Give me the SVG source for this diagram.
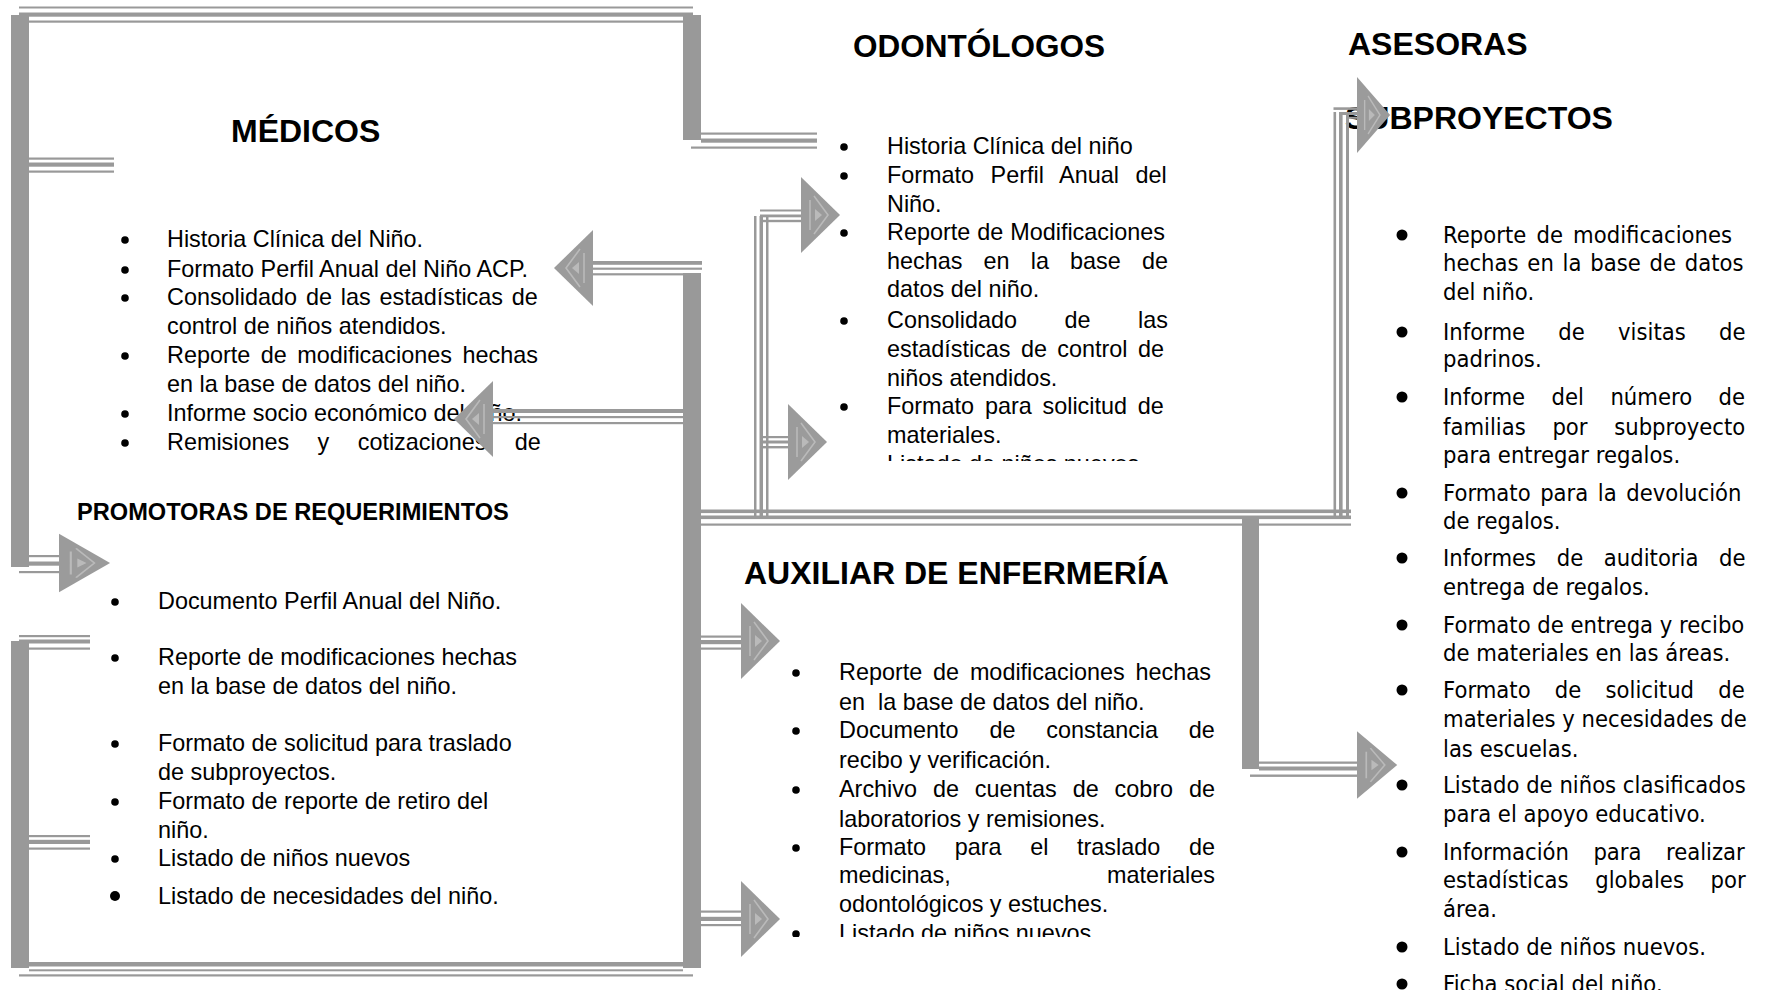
<svg xmlns="http://www.w3.org/2000/svg" xmlns:xlink="http://www.w3.org/1999/xlink" width="1765" height="990" viewBox="0 0 1765 990">
  <defs>
    <style>
      .t { font-family: "Liberation Sans", Arial, sans-serif; font-size: 23.4px; fill: #000; }
      .h { font-family: "Liberation Sans", Arial, sans-serif; font-weight: bold; font-size: 32px; fill: #000; }
      .v { font-family: "DejaVu Sans", Verdana, sans-serif; font-size: 22.8px; fill: #000; }
      .ln rect { fill: #999999; }
      .dot { fill: #000; }
    </style>
    <!-- right-pointing bevelled arrowhead; origin at the middle of its base -->
    <g id="arr">
      <polygon points="0,-38 39,0 0,38" fill="#9b9b9b"/>
      <path d="M9,-15 V15 M13,-19 L27,0 L13,19" fill="none" stroke="#bababa" stroke-width="1.6"/>
      <polygon points="14,-6 21,0 14,6" fill="#bababa"/>
    </g>
    <clipPath id="clipOdo"><rect x="820" y="120" width="400" height="341"/></clipPath>
    <clipPath id="clipAux"><rect x="770" y="600" width="470" height="337"/></clipPath>
  </defs>

  <rect width="1765" height="990" fill="#ffffff"/>

  <!-- MÉDICOS -->
  <g id="medicos">
    <text class="h" x="231" y="142">MÉDICOS</text>
    <circle class="dot" cx="125" cy="240" r="3.8"/>
    <circle class="dot" cx="125" cy="270" r="3.8"/>
    <circle class="dot" cx="125" cy="298" r="3.8"/>
    <circle class="dot" cx="125" cy="356" r="3.8"/>
    <circle class="dot" cx="125" cy="414" r="3.8"/>
    <circle class="dot" cx="125" cy="443" r="3.8"/>
    <text class="t" x="167" y="247">Historia Clínica del Niño.</text>
    <text class="t" x="167" y="277">Formato Perfil Anual del Niño ACP.</text>
    <text class="t" x="167" y="305" word-spacing="2.35">Consolidado de las estadísticas de</text>
    <text class="t" x="167" y="334">control de niños atendidos.</text>
    <text class="t" x="167" y="363" word-spacing="4">Reporte de modificaciones hechas</text>
    <text class="t" x="167" y="392">en la base de datos del niño.</text>
    <text class="t" x="167" y="421">Informe socio económico del niño.</text>
    <text class="t" x="167" y="450" word-spacing="21.9">Remisiones y cotizaciones de</text>
  </g>

  <!-- PROMOTORAS DE REQUERIMIENTOS -->
  <g id="promotoras">
    <text class="h" x="77" y="520" style="font-size:23.6px">PROMOTORAS DE REQUERIMIENTOS</text>
    <circle class="dot" cx="115" cy="602" r="3.8"/>
    <circle class="dot" cx="115" cy="658" r="3.8"/>
    <circle class="dot" cx="115" cy="744" r="3.8"/>
    <circle class="dot" cx="115" cy="802" r="3.8"/>
    <circle class="dot" cx="115" cy="859" r="3.8"/>
    <circle class="dot" cx="115" cy="896" r="5"/>
    <text class="t" x="158" y="609">Documento Perfil Anual del Niño.</text>
    <text class="t" x="158" y="665">Reporte de modificaciones hechas</text>
    <text class="t" x="158" y="694">en la base de datos del niño.</text>
    <text class="t" x="158" y="751">Formato de solicitud para traslado</text>
    <text class="t" x="158" y="780">de subproyectos.</text>
    <text class="t" x="158" y="809">Formato de reporte de retiro del</text>
    <text class="t" x="158" y="838">niño.</text>
    <text class="t" x="158" y="866">Listado de niños nuevos</text>
    <text class="t" x="158" y="904">Listado de necesidades del niño.</text>
  </g>

  <!-- ODONTÓLOGOS -->
  <g id="odontologos">
    <text class="h" x="853" y="57" style="font-size:31.5px">ODONTÓLOGOS</text>
    <g clip-path="url(#clipOdo)">
      <circle class="dot" cx="844" cy="147" r="3.8"/>
      <circle class="dot" cx="844" cy="176" r="3.8"/>
      <circle class="dot" cx="844" cy="233" r="3.8"/>
      <circle class="dot" cx="844" cy="321" r="3.8"/>
      <circle class="dot" cx="844" cy="407" r="3.8"/>
      <circle class="dot" cx="844" cy="465" r="3.8"/>
      <text class="t" x="887" y="154">Historia Clínica del niño</text>
      <text class="t" x="887" y="183" word-spacing="10">Formato Perfil Anual del</text>
      <text class="t" x="887" y="212">Niño.</text>
      <text class="t" x="887" y="240" word-spacing="0.5">Reporte de Modificaciones</text>
      <text class="t" x="887" y="269" word-spacing="14.65">hechas en la base de</text>
      <text class="t" x="887" y="297">datos del niño.</text>
      <text class="t" x="887" y="328" word-spacing="41">Consolidado de las</text>
      <text class="t" x="887" y="357" word-spacing="3.9">estadísticas de control de</text>
      <text class="t" x="887" y="386">niños atendidos.</text>
      <text class="t" x="887" y="414" word-spacing="4.3">Formato para solicitud de</text>
      <text class="t" x="887" y="443">materiales.</text>
      <text class="t" x="887" y="472">Listado de niños nuevos</text>
    </g>
  </g>

  <!-- AUXILIAR DE ENFERMERÍA -->
  <g id="auxiliar">
    <text class="h" x="744" y="584">AUXILIAR DE ENFERMERÍA</text>
    <g clip-path="url(#clipAux)">
      <circle class="dot" cx="796" cy="673" r="3.8"/>
      <circle class="dot" cx="796" cy="731" r="3.8"/>
      <circle class="dot" cx="796" cy="790" r="3.8"/>
      <circle class="dot" cx="796" cy="848" r="3.8"/>
      <circle class="dot" cx="796" cy="934" r="3.8"/>
      <text class="t" x="839" y="680" word-spacing="4.33">Reporte de modificaciones hechas</text>
      <text class="t" x="839" y="710">en&#160; la base de datos del niño.</text>
      <text class="t" x="839" y="738" word-spacing="24.3">Documento de constancia de</text>
      <text class="t" x="839" y="768">recibo y verificación.</text>
      <text class="t" x="839" y="797" word-spacing="9.4">Archivo de cuentas de cobro de</text>
      <text class="t" x="839" y="827">laboratorios y remisiones.</text>
      <text class="t" x="839" y="855" word-spacing="22.15">Formato para el traslado de</text>
      <text class="t" x="839" y="883" word-spacing="149.7">medicinas, materiales</text>
      <text class="t" x="839" y="912">odontológicos y estuches.</text>
      <text class="t" x="839" y="941">Listado de niños nuevos</text>
    </g>
  </g>

  <!-- ASESORAS SUBPROYECTOS -->
  <g id="asesoras">
    <text class="h" x="1348" y="55">ASESORAS</text>
    <text class="h" x="1345" y="129">SUBPROYECTOS</text>
    <circle class="dot" cx="1402" cy="235" r="5.5"/>
    <circle class="dot" cx="1402" cy="332" r="5.5"/>
    <circle class="dot" cx="1402" cy="397" r="5.5"/>
    <circle class="dot" cx="1402" cy="493" r="5.5"/>
    <circle class="dot" cx="1402" cy="558" r="5.5"/>
    <circle class="dot" cx="1402" cy="625" r="5.5"/>
    <circle class="dot" cx="1402" cy="690" r="5.5"/>
    <circle class="dot" cx="1402" cy="785" r="5.5"/>
    <circle class="dot" cx="1402" cy="852" r="5.5"/>
    <circle class="dot" cx="1402" cy="947" r="5.5"/>
    <circle class="dot" cx="1402" cy="984" r="5.5"/>
    <g transform="translate(1443 0) scale(0.93 1)">
      <text class="v" x="0" y="243" word-spacing="3.7">Reporte de modificaciones</text>
      <text class="v" x="0" y="271" word-spacing="2.2">hechas en la base de datos</text>
      <text class="v" x="0" y="300">del niño.</text>
      <text class="v" x="0" y="340" word-spacing="28.5">Informe de visitas de</text>
      <text class="v" x="0" y="367">padrinos.</text>
      <text class="v" x="0" y="405" word-spacing="21.2">Informe del número de</text>
      <text class="v" x="0" y="435" word-spacing="21.4">familias por subproyecto</text>
      <text class="v" x="0" y="463">para entregar regalos.</text>
      <text class="v" x="0" y="501" word-spacing="3">Formato para la devolución</text>
      <text class="v" x="0" y="529">de regalos.</text>
      <text class="v" x="0" y="566" word-spacing="14.9">Informes de auditoria de</text>
      <text class="v" x="0" y="595">entrega de regalos.</text>
      <text class="v" x="0" y="633">Formato de entrega y recibo</text>
      <text class="v" x="0" y="661">de materiales en las áreas.</text>
      <text class="v" x="0" y="698" word-spacing="18.8">Formato de solicitud de</text>
      <text class="v" x="0" y="727">materiales y necesidades de</text>
      <text class="v" x="0" y="757">las escuelas.</text>
      <text class="v" x="0" y="793">Listado de niños clasificados</text>
      <text class="v" x="0" y="822">para el apoyo educativo.</text>
      <text class="v" x="0" y="860" word-spacing="19">Información para realizar</text>
      <text class="v" x="0" y="888" word-spacing="21.4">estadísticas globales por</text>
      <text class="v" x="0" y="917">área.</text>
      <text class="v" x="0" y="955">Listado de niños nuevos.</text>
      <text class="v" x="0" y="992">Ficha social del niño.</text>
    </g>
  </g>

  <!-- connectors: grey compound lines, bars and arrowheads -->
  <g id="connectors" class="ln">
    <!-- upper frame around MÉDICOS -->
    <rect x="19" y="6.5" width="674" height="2"/>
    <rect x="19" y="12.5" width="674" height="4.2"/>
    <rect x="29" y="20.5" width="654" height="2.2"/>
    <rect x="11" y="15" width="18" height="552"/>
    <rect x="683" y="15" width="18" height="125"/>
    <rect x="701" y="132.5" width="116" height="2.2"/>
    <rect x="701" y="138.5" width="116" height="4.2"/>
    <rect x="691" y="146.5" width="126" height="2.2"/>
    <rect x="29" y="157.5" width="85" height="2.2"/>
    <rect x="29" y="162.5" width="85" height="4.2"/>
    <rect x="29" y="170.5" width="85" height="2.2"/>
    <rect x="29" y="555" width="32" height="2.2"/>
    <rect x="29" y="561.5" width="32" height="4.2"/>
    <rect x="19" y="571" width="42" height="2.2"/>

    <!-- lower frame around PROMOTORAS -->
    <rect x="19" y="635" width="71" height="2.2"/>
    <rect x="19" y="639.5" width="71" height="4"/>
    <rect x="29" y="647.5" width="61" height="2.2"/>
    <rect x="11" y="641" width="18" height="327"/>
    <rect x="29" y="835" width="61" height="2.2"/>
    <rect x="29" y="839.8" width="61" height="4.2"/>
    <rect x="29" y="847.5" width="61" height="2.2"/>
    <rect x="11" y="962" width="690" height="4.5"/>
    <rect x="29" y="969.3" width="654" height="2"/>
    <rect x="19" y="974.3" width="674" height="2.2"/>
    <rect x="683" y="273" width="18" height="695"/>

    <!-- links back to MÉDICOS -->
    <rect x="593" y="261" width="109" height="3.8"/>
    <rect x="593" y="267.6" width="109" height="2.2"/>
    <rect x="593" y="273.2" width="90" height="2.2"/>
    <rect x="492" y="409" width="191" height="4"/>
    <rect x="492" y="416" width="191" height="2.2"/>
    <rect x="492" y="422" width="191" height="2.2"/>

    <!-- links to AUXILIAR DE ENFERMERÍA -->
    <rect x="701" y="635.5" width="40" height="2.2"/>
    <rect x="701" y="640" width="40" height="4.2"/>
    <rect x="701" y="647.5" width="40" height="2.2"/>
    <rect x="701" y="910.5" width="40" height="2.2"/>
    <rect x="701" y="916.8" width="40" height="4.2"/>
    <rect x="701" y="924" width="40" height="2.2"/>

    <!-- long run towards ASESORAS -->
    <rect x="701" y="509.5" width="650" height="3.6"/>
    <rect x="701" y="515.5" width="650" height="3.6"/>
    <rect x="701" y="523.5" width="650" height="2.2"/>

    <!-- ODONTÓLOGOS branch -->
    <rect x="754" y="216" width="2.5" height="301"/>
    <rect x="759.5" y="216" width="3.5" height="301"/>
    <rect x="766" y="216" width="2.5" height="301"/>
    <rect x="760" y="209.5" width="41" height="2"/>
    <rect x="760" y="214.5" width="41" height="2.8"/>
    <rect x="760" y="219.8" width="41" height="2.4"/>
    <rect x="760" y="436" width="28" height="2.2"/>
    <rect x="760" y="440.5" width="28" height="3"/>
    <rect x="760" y="446" width="28" height="2.4"/>

    <!-- ASESORAS branch -->
    <rect x="1333.5" y="112" width="2.6" height="405"/>
    <rect x="1339" y="112" width="3.6" height="405"/>
    <rect x="1346" y="112" width="3" height="405"/>
    <rect x="1333.5" y="107.3" width="24" height="2.6"/>
    <rect x="1339" y="112" width="18" height="3"/>
    <rect x="1346" y="116.8" width="11" height="2"/>

    <!-- AUXILIAR drop to the lower ASESORAS arrow -->
    <rect x="1242" y="519" width="17" height="250"/>
    <rect x="1259" y="761.5" width="99" height="2.3"/>
    <rect x="1259" y="766.5" width="99" height="4"/>
    <rect x="1250" y="774.5" width="108" height="2.4"/>

    <!-- arrowheads -->
    <use xlink:href="#arr" transform="translate(59 563) scale(1.31 0.77)"/>
    <use xlink:href="#arr" transform="translate(593 268) scale(-1 1)"/>
    <use xlink:href="#arr" transform="translate(493 419) scale(-1 1)"/>
    <use xlink:href="#arr" transform="translate(801 215)"/>
    <use xlink:href="#arr" transform="translate(788 442)"/>
    <use xlink:href="#arr" transform="translate(741 641)"/>
    <use xlink:href="#arr" transform="translate(741 919)"/>
    <use xlink:href="#arr" transform="translate(1357 115) scale(0.85 1)"/>
    <use xlink:href="#arr" transform="translate(1357 765) scale(1.03 0.89)"/>
  </g>
</svg>
